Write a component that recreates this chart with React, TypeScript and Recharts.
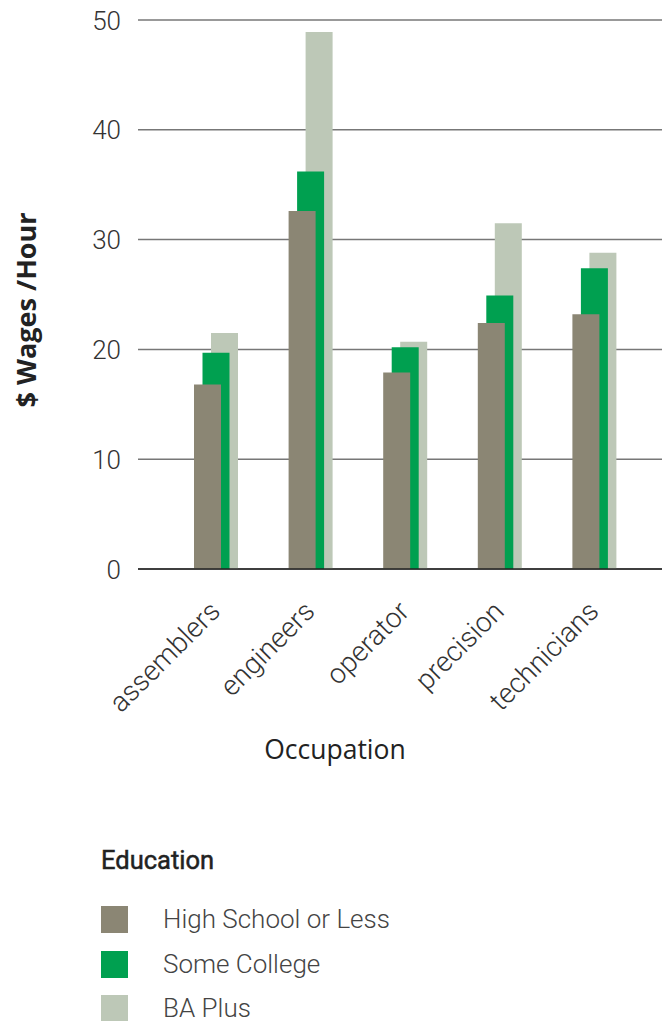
import React from 'react';
import { BarChart, Bar, XAxis, YAxis, CartesianGrid, Legend } from 'recharts';

const categories = ['assemblers', 'engineers', 'operator', 'precision', 'technicians'];
const highSchool = [16.8, 32.6, 17.9, 22.4, 23.2];
const someCollege = [19.7, 36.2, 20.2, 24.9, 27.4];
const baPlus = [21.5, 48.9, 20.7, 31.5, 28.8];
const yTicks = [0, 10, 20, 30, 40, 50];

const seriesInfo = [
  { key: 'highSchool', name: 'High School or Less', color: '#8B8674' },
  { key: 'someCollege', name: 'Some College', color: '#00A050' },
  { key: 'baPlus', name: 'BA Plus', color: '#BDC8B7' },
];

const data = categories.map((occupation, i) => ({
  occupation,
  highSchool: highSchool[i],
  someCollege: someCollege[i],
  baPlus: baPlus[i],
}));

const LIGHT = 'Roboto, "Noto Sans", sans-serif';

const OccupationTick = ({ x, y, payload }: any) => (
  <g transform={`translate(${x + 14.5},${y + 44})`}>
    <text
      transform="rotate(-45)"
      textAnchor="end"
      fontFamily={LIGHT}
      fontWeight={300}
      fontSize={28}
      fill="#333"
    >
      {payload.value}
    </text>
  </g>
);

const WageTick = ({ x, y, payload }: any) => (
  <text
    x={x}
    y={y}
    dy={9.5}
    textAnchor="end"
    fontFamily={LIGHT}
    fontWeight={300}
    fontSize={26}
    fill="#333"
  >
    {payload.value}
  </text>
);

const EducationLegend = () => (
  <div style={{ paddingLeft: 101, fontFamily: LIGHT }}>
    <div
      style={{
        fontSize: 25.5,
        lineHeight: '30px',
        height: 30,
        fontWeight: 400,
        color: '#222',
        WebkitTextStroke: '0.5px #222',
        marginBottom: 31,
      }}
    >
      Education
    </div>
    {seriesInfo.map((s) => (
      <div key={s.key} style={{ display: 'flex', height: 27, marginBottom: 17.5 }}>
        <div style={{ width: 27, height: 27, background: s.color, marginRight: 35 }} />
        <div style={{ fontSize: 26, lineHeight: '27px', fontWeight: 300, color: '#444' }}>{s.name}</div>
      </div>
    ))}
  </div>
);

export default function App() {
  return (
    <div style={{ position: 'absolute', left: 0, top: 0, width: 662, height: 1021, background: '#fff', overflow: 'hidden' }}>
      <BarChart width={662} height={1021} data={data} margin={{ top: 20, right: 0, left: 0, bottom: 252 }}>
        <CartesianGrid vertical={false} stroke="#777" strokeWidth={1.5} />
        {/* one band axis per series so the bars overlap with a small stagger */}
        <XAxis xAxisId="ba" dataKey="occupation" hide height={0} padding={{ left: 39, right: 12 }} />
        <XAxis xAxisId="sc" dataKey="occupation" hide height={0} padding={{ left: 30.5, right: 20.5 }} />
        <XAxis
          xAxisId="hs"
          dataKey="occupation"
          height={200}
          padding={{ left: 22, right: 29 }}
          tickLine={false}
          tickSize={0}
          tickMargin={0}
          axisLine={{ stroke: '#222', strokeWidth: 1.5 }}
          tick={<OccupationTick />}
          interval={0}
          label={{
            content: ({ viewBox }: any) => (
              <text
                x={335}
                y={viewBox.y + 190}
                textAnchor="middle"
                fontFamily={'"Open Sans", sans-serif'}
                fontSize={26.5}
                fill="#222"
              >
                Occupation
              </text>
            ),
          }}
        />
        <YAxis
          width={138}
          domain={[0, 50]}
          ticks={yTicks}
          axisLine={false}
          tickLine={false}
          tickSize={0}
          tickMargin={17}
          tick={<WageTick />}
          label={{
            content: () => (
              <text
                x={36}
                y={310}
                transform="rotate(-90, 36, 310)"
                textAnchor="middle"
                fontFamily={'"Open Sans", sans-serif'}
                fontWeight={700}
                fontSize={27}
                fill="#222"
              >
                $ Wages /Hour
              </text>
            ),
          }}
        />
        <Legend
          layout="horizontal"
          verticalAlign="middle"
          align="center"
          content={<EducationLegend />}
          wrapperStyle={{ left: 0, top: 845, width: 662 }}
        />
        <Bar xAxisId="ba" dataKey="baPlus" name="BA Plus" fill="#BDC8B7" barSize={27} isAnimationActive={false} />
        <Bar xAxisId="sc" dataKey="someCollege" name="Some College" fill="#00A050" barSize={27} isAnimationActive={false} />
        <Bar xAxisId="hs" dataKey="highSchool" name="High School or Less" fill="#8B8674" barSize={27} isAnimationActive={false} />
      </BarChart>
    </div>
  );
}
